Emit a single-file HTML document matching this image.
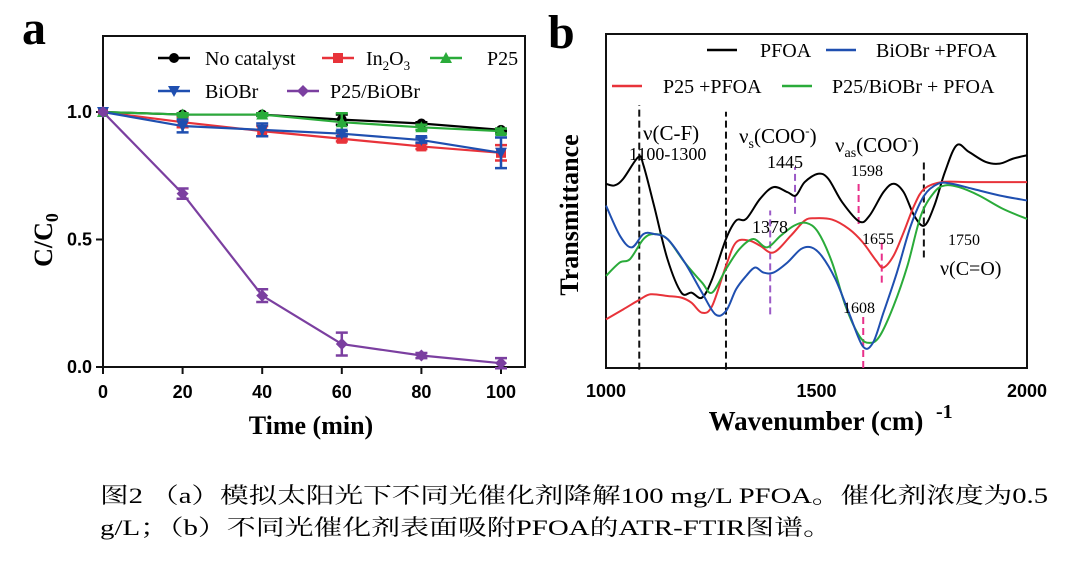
<!DOCTYPE html>
<html><head><meta charset="utf-8"><style>
html,body{margin:0;padding:0;background:#fff;width:1080px;height:562px;overflow:hidden}
svg{display:block}
text{font-family:"Liberation Serif","Noto Serif CJK SC",serif}
.b{font-family:"Liberation Sans",sans-serif;font-weight:bold}
</style></head><body>
<svg id="fig" width="1080" height="562" viewBox="0 0 1080 562">
<g id="pa"></g>
<g id="pb"></g>
<text x="100" y="503" font-size="22" textLength="948" lengthAdjust="spacingAndGlyphs">图2 （a）模拟太阳光下不同光催化剂降解100 mg/L PFOA。催化剂浓度为0.5</text>
<text x="100" y="535" font-size="22" textLength="732" lengthAdjust="spacingAndGlyphs">g/L；（b）不同光催化剂表面吸附PFOA的ATR-FTIR图谱。</text>
</svg>
<script>
// ---- Panel a data ----
const timesA = [0,20,40,60,80,100];
const seriesNames = ["No catalyst","In2O3","P25","BiOBr","P25/BiOBr"];
const noCatalyst = [1,0.99,0.99,0.97,0.955,0.93];
const in2o3 = [1,0.96,0.925,0.895,0.865,0.84];
const p25 = [1,0.99,0.99,0.96,0.94,0.925];
const biobr = [1,0.945,0.93,0.915,0.89,0.84];
const p25biobr = [1,0.68,0.28,0.09,0.045,0.015];
const errNo = [0,0.005,0.005,0.02,0.005,0.005];
const errIn = [0,0.02,0.02,0.01,0.01,0.03];
const errP25 = [0,0.005,0.005,0.035,0.01,0.01];
const errBi = [0,0.025,0.025,0.01,0.01,0.06];
const errPB = [0,0.02,0.025,0.045,0.01,0.02];
const xTicksA = [0,20,40,60,80,100];
const yTicksA = [0,0.5,1.0];
const yTickLabelsA = ["0.0","0.5","1.0"];

// ---- Panel b data ----
const xTicksB = [1000,1500,2000];
const wnPFOA = [1000,1020,1041,1077,1089,1114,1146,1179,1203,1228,1252,1285,1309,1333,1366,1398,1431,1451,1472,1504,1528,1561,1602,1626,1659,1683,1707,1732,1756,1780,1805,1833,1862,1902,1935,1967,2000];
const tPFOA = [55,54.5,56.5,63,60.5,48.5,32.5,22.5,22.5,21,26.5,38.5,44,44.5,50.5,54,52.5,51.5,55.5,58,56.5,49.5,43.7,45.5,52.5,55,52.5,45.5,42.5,48.5,58.5,66.5,64.5,61.5,61,62.5,63.5];
const wnBi = [1000,1033,1061,1089,1114,1146,1187,1228,1260,1285,1309,1333,1354,1374,1398,1431,1463,1488,1512,1545,1577,1610,1634,1659,1691,1724,1756,1789,1821,1870,1935,2000];
const tBi = [48.5,39.5,36,40,40,38.5,31.5,22.5,16,17,23.5,27.5,30,28.5,28.5,31.5,35.5,36,33.5,26.5,16.5,6.5,7.5,16.5,28.5,42.5,51.5,55,55,53.5,51.5,50];
const wnG = [1000,1033,1057,1089,1114,1146,1187,1228,1252,1285,1317,1350,1382,1415,1447,1476,1504,1537,1569,1602,1626,1650,1683,1716,1748,1780,1805,1838,1886,1943,2000];
const tG = [27.5,31.5,32.5,38.5,40,38.5,31.5,25.5,22.5,29.5,35.5,38.5,36,39.5,42.5,43.3,40.5,31.5,18.5,9.5,7.5,9.5,18.5,30.5,45.5,52.5,54.5,54,51.5,47.5,44.5];
const wnR = [1000,1041,1081,1106,1146,1179,1203,1228,1252,1285,1309,1341,1366,1398,1439,1472,1496,1537,1577,1610,1642,1659,1683,1707,1732,1756,1797,1862,2000];
const tR = [14.5,17.5,20.5,22,21.5,21,19.5,16.5,18.5,30.5,37.5,38,36.5,34.5,39.5,44,44.7,44.3,41.5,37.5,32,30,33.5,40.5,48.5,53.5,55.5,55.5,55.5];
const dashWn = [1079,1285,1449,1390,1600,1655,1611,1755];
const dashT0 = [-0.5,-0.5,46,16,43,25.5,0,33];
const dashT1 = [78.5,76.5,60,47,56,38.5,16,62];

const NS="http://www.w3.org/2000/svg";
function mk(parent,tag,attrs){const e=document.createElementNS(NS,tag);for(const k in attrs)e.setAttribute(k,attrs[k]);parent.appendChild(e);return e;}

// ===== Panel A =====
const pa=document.getElementById('pa');
const ax=v=>103+(v/100)*398, ay=v=>367-v*255;
let t;
t=mk(pa,'text',{x:22,y:44,'font-size':48,'font-weight':'bold'});t.textContent='a';


let r=mk(pa,'rect',{x:103,y:36,width:422,height:331,fill:'none',stroke:'#111','stroke-width':2});


xTicksA.forEach(v=>{
  const l=mk(pa,'line',{x1:ax(v),x2:ax(v),y1:367,y2:374,stroke:'#111','stroke-width':2});
  
  
  const tt=mk(pa,'text',{x:ax(v),y:398,'font-size':18,'text-anchor':'middle',class:'b'});tt.textContent=v;
  
  
});
yTicksA.forEach((v,i)=>{
  const l=mk(pa,'line',{x1:96,x2:103,y1:ay(v),y2:ay(v),stroke:'#111','stroke-width':2});
  
  
  const tt=mk(pa,'text',{x:92,y:ay(v)+6,'font-size':18,'text-anchor':'end',class:'b'});tt.textContent=yTickLabelsA[i];
  
  
});
t=mk(pa,'text',{x:311,y:434,'font-size':26,'font-weight':'bold','text-anchor':'middle'});t.textContent='Time (min)';


t=mk(pa,'text',{transform:'translate(52,240) rotate(-90)','font-size':26,'font-weight':'bold','text-anchor':'middle'});
t.innerHTML='C/C<tspan font-size="18" dy="6">0</tspan>';



const colsA=['#000','#e8333a','#2aab3a','#1f4fb0','#7b3fa0'];
const valsA=[noCatalyst,in2o3,p25,biobr,p25biobr];
const errsA=[errNo,errIn,errP25,errBi,errPB];
function marker(g,i,x,y,s){
  const c=colsA[i];let m;
  if(i===0)m=mk(g,'circle',{cx:x,cy:y,r:s,fill:c});
  else if(i===1)m=mk(g,'rect',{x:x-s,y:y-s,width:2*s,height:2*s,fill:c});
  else if(i===2)m=mk(g,'polygon',{points:`${x},${y-s-1} ${x-s-1},${y+s} ${x+s+1},${y+s}`,fill:c});
  else if(i===3)m=mk(g,'polygon',{points:`${x},${y+s+1} ${x-s-1},${y-s} ${x+s+1},${y-s}`,fill:c});
  else m=mk(g,'polygon',{points:`${x},${y-s-1} ${x+s+1},${y} ${x},${y+s+1} ${x-s-1},${y}`,fill:c});
  return m;
}
valsA.forEach((vals,i)=>{
  const g=mk(pa,'g',{});
  
  
  const p=mk(g,'polyline',{points:vals.map((v,k)=>ax(timesA[k])+','+ay(v)).join(' '),fill:'none',stroke:colsA[i],'stroke-width':2.2});
  
  
  vals.forEach((v,k)=>{
    const e=errsA[i][k];const x=ax(timesA[k]);
    if(e>0.004){
      const eb=mk(g,'path',{d:`M${x},${ay(v+e)}V${ay(v-e)}M${x-6},${ay(v+e)}H${x+6}M${x-6},${ay(v-e)}H${x+6}`,stroke:colsA[i],'stroke-width':2.5,fill:'none'});
      
      
    }
    const m=marker(g,i,x,ay(v),5);
    
    
  });
});
// legend a
const legA=[[158,58,205,'No catalyst'],[322,58,366,'In<tspan font-size="13" dy="5">2</tspan><tspan dy="-5">O</tspan><tspan font-size="13" dy="5">3</tspan>'],[430,58,487,'P25'],[158,91,205,'BiOBr'],[287,91,330,'P25/BiOBr']];
legA.forEach((l,i)=>{
  const g=mk(pa,'g',{});
  
  
  mk(g,'line',{x1:l[0],x2:l[0]+32,y1:l[1],y2:l[1],stroke:colsA[i],'stroke-width':2.5});
  marker(g,i,l[0]+16,l[1],5);
  const tt=mk(g,'text',{x:l[2],y:l[1]+7,'font-size':20});tt.innerHTML=l[3];
});

// ===== Panel B =====
const pb=document.getElementById('pb');
const bx=w=>606+(w-1000)/1000*421, by=v=>368-v*3.35;
t=mk(pb,'text',{x:548,y:48,'font-size':48,'font-weight':'bold'});t.textContent='b';


r=mk(pb,'rect',{x:606,y:34,width:421,height:334,fill:'none',stroke:'#111','stroke-width':2});


xTicksB.forEach(v=>{
  const tt=mk(pb,'text',{x:bx(v),y:397,'font-size':18,'text-anchor':'middle',class:'b'});tt.textContent=v;
  
  
});
t=mk(pb,'text',{x:816,y:430,'font-size':27,'font-weight':'bold','text-anchor':'middle'});t.textContent='Wavenumber (cm)';


t=mk(pb,'text',{x:936,y:418,'font-size':20,'font-weight':'bold'});t.textContent='-1';


t=mk(pb,'text',{transform:'translate(578,215) rotate(-90)','font-size':26,'font-weight':'bold','text-anchor':'middle'});t.textContent='Transmittance';



function smooth(xs,ys){
  const P=xs.map((w,i)=>[bx(w),by(ys[i])]);
  let d=`M${P[0][0]},${P[0][1]}`;
  for(let i=0;i<P.length-1;i++){
    const p0=P[i-1]||P[i],p1=P[i],p2=P[i+1],p3=P[i+2]||P[i+1];
    d+=`C${p1[0]+(p2[0]-p0[0])/6},${p1[1]+(p2[1]-p0[1])/6} ${p2[0]-(p3[0]-p1[0])/6},${p2[1]-(p3[1]-p1[1])/6} ${p2[0]},${p2[1]}`;
  }
  return d;
}
const dashCols=['#111','#111','#9b59c6','#9b59c6','#e8308a','#e8308a','#e8308a','#111'];
dashWn.forEach((w,i)=>{
  const l=mk(pb,'line',{x1:bx(w),x2:bx(w),y1:by(dashT0[i]),y2:by(dashT1[i]),stroke:dashCols[i],'stroke-width':2,'stroke-dasharray':'7,4'});
  
  
});
const curves=[[wnPFOA,tPFOA,'#000','pfoa'],[wnR,tR,'#e8333a','p25-pfoa'],[wnG,tG,'#2aab3a','p25-biobr-pfoa'],[wnBi,tBi,'#1f4fb0','biobr-pfoa']];
curves.forEach(c=>{
  const p=mk(pb,'path',{d:smooth(c[0],c[1]),fill:'none',stroke:c[2],'stroke-width':2});
  
  
});
const legB=[[707,50,760,'#000','PFOA'],[826,50,876,'#1f4fb0','BiOBr +PFOA'],[612,86,663,'#e8333a','P25 +PFOA'],[782,86,832,'#2aab3a','P25/BiOBr + PFOA']];
legB.forEach(l=>{
  const g=mk(pb,'g',{});
  
  
  mk(g,'line',{x1:l[0],x2:l[0]+30,y1:l[1],y2:l[1],stroke:l[3],'stroke-width':2.5});
  const tt=mk(g,'text',{x:l[2],y:l[1]+7,'font-size':20});tt.textContent=l[4];
});
const ann=[[643,140,21,'ν(C-F)'],[629,160,18,'1100-1300'],[739,143,21,'ν<tspan font-size="14" dy="5">s</tspan><tspan dy="-5">(COO</tspan><tspan font-size="13" dy="-8">-</tspan><tspan dy="8">)</tspan>'],[767,168,18,'1445'],[835,152,21,'ν<tspan font-size="14" dy="5">as</tspan><tspan dy="-5">(COO</tspan><tspan font-size="13" dy="-8">-</tspan><tspan dy="8">)</tspan>'],[851,176,16,'1598'],[752,233,18,'1378'],[862,244,16,'1655'],[843,313,16,'1608'],[948,245,16,'1750'],[940,275,20,'ν(C=O)']];
ann.forEach(a=>{
  const tt=mk(pb,'text',{x:a[0],y:a[1],'font-size':a[2]});tt.innerHTML=a[3];
  
  
});
</script>
</body></html>
